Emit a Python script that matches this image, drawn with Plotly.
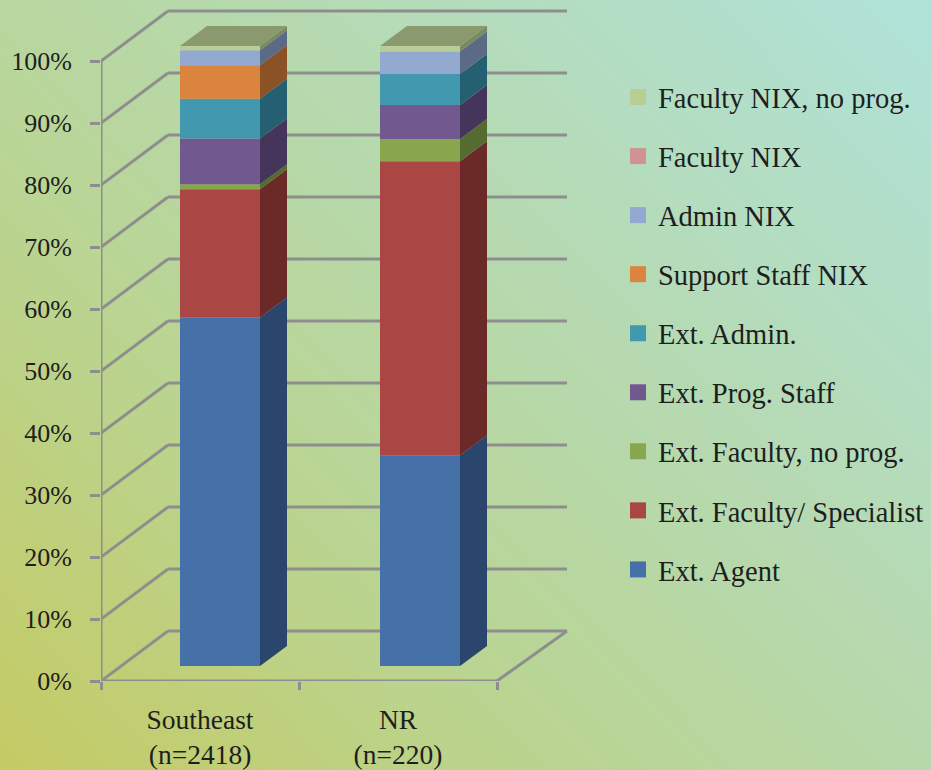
import base64, struct, zlib
import numpy as np
import plotly.graph_objects as go

# ---------- data ----------
categories = ["Southeast<br>(n=2418)", "NR<br>(n=220)"]
series_names = ["Ext. Agent", "Ext. Faculty/ Specialist", "Ext. Faculty, no prog.", "Ext. Prog. Staff",
                "Ext. Admin.", "Support Staff NIX", "Admin NIX", "Faculty NIX", "Faculty NIX, no prog."]
southeast_values = [56.2, 20.7, 0.8, 7.4, 6.4, 5.4, 2.4, 0.0, 0.7]
nr_values = [34.0, 47.4, 3.6, 5.5, 5.0, 0.0, 3.6, 0.0, 0.9]
percent_ticks = [0, 10, 20, 30, 40, 50, 60, 70, 80, 90, 100]
percent_labels = ["0%", "10%", "20%", "30%", "40%", "50%", "60%", "70%", "80%", "90%", "100%"]

# ---------- styles ----------
front_colors = ["#4571A8", "#AA4643", "#89A54E", "#71588F", "#4198AF", "#DB843D", "#93A9CF", "#D19392", "#B9CD96"]
side_colors = ["#2A466C", "#6B2928", "#566B30", "#46355B", "#256072", "#8A5225", "#5B6A85", "#835C5B", "#7A8A60"]
top_color = "#8A996E"
grid_color = "#8E8E8E"
text_color = "#1E1E1E"
font_family = "Liberation Serif"
LINE_W = 3

PX_PER_UNIT_X = 198.0
PX_PER_UNIT_Y = 6.2
WALL_DX_LEFT, WALL_DX_RIGHT = 67 / PX_PER_UNIT_X, 70 / PX_PER_UNIT_X   # slight perspective of the box
WALL_DY = 50 / PX_PER_UNIT_Y
BAR_DXS = [20 / PX_PER_UNIT_X, 22 / PX_PER_UNIT_X]                     # offset of the bar fronts
BAR_DY = 15 / PX_PER_UNIT_Y
DEPTH_DX, DEPTH_DY = 27 / PX_PER_UNIT_X, 20 / PX_PER_UNIT_Y            # depth of each bar
BAR_W = 80 / PX_PER_UNIT_X
N_SLOTS = len(categories)


# ---------- background gradient ----------
def gradient_png(w, h):
    stops_t = [0.0, 0.30, 0.62, 1.0]
    stops_c = np.array([[197, 203, 100], [187, 212, 142], [182, 218, 178], [177, 227, 218]], float)
    yy, xx = np.mgrid[0:h, 0:w]
    t = (xx / w * 0.55 + (h - yy) / h * 0.45)
    rgb = np.stack([np.interp(t, stops_t, stops_c[:, i]) for i in range(3)], axis=-1).astype(np.uint8)
    raw = b"".join(b"\x00" + rgb[r].tobytes() for r in range(h))

    def chunk(tag, d):
        return struct.pack(">I", len(d)) + tag + d + struct.pack(">I", zlib.crc32(tag + d) & 0xffffffff)

    png = b"\x89PNG\r\n\x1a\n" + chunk(b"IHDR", struct.pack(">IIBBBBB", w, h, 8, 2, 0, 0, 0)) \
        + chunk(b"IDAT", zlib.compress(raw)) + chunk(b"IEND", b"")
    return "data:image/png;base64," + base64.b64encode(png).decode()


fig = go.Figure()
centers = [i + 0.5 + BAR_DXS[i] for i in range(N_SLOTS)]
cols = [southeast_values, nr_values]

# front faces: real stacked bars, raised onto the floor of the box
bottoms = [BAR_DY, BAR_DY]
for s, name in enumerate(series_names):
    vals = [southeast_values[s], nr_values[s]]
    fig.add_trace(go.Bar(x=centers, y=vals, base=list(bottoms), width=BAR_W, name=name,
                         marker=dict(color=front_colors[s], line=dict(width=0)),
                         showlegend=False))
    bottoms = [b + v for b, v in zip(bottoms, vals)]


def poly(xs, ys, color, name):
    fig.add_trace(go.Scatter(x=xs, y=ys, mode="lines", fill="toself", fillcolor=color,
                             line=dict(width=0, color=color), showlegend=False, name=name, hoverinfo="skip"))


# side faces and top faces from the same values
for c, vals in zip(centers, cols):
    right = c + BAR_W / 2
    left = c - BAR_W / 2
    b = BAR_DY
    for s, v in enumerate(vals):
        if v > 0:
            poly([right, right + DEPTH_DX, right + DEPTH_DX, right],
                 [b, b + DEPTH_DY, b + v + DEPTH_DY, b + v], side_colors[s], series_names[s])
        b += v
    poly([left, right, right + DEPTH_DX, left + DEPTH_DX], [b, b, b + DEPTH_DY, b + DEPTH_DY], top_color, "top")


def line(xs, ys):
    fig.add_trace(go.Scatter(x=xs, y=ys, mode="lines", line=dict(color=grid_color, width=LINE_W), cliponaxis=False,
                             showlegend=False, hoverinfo="skip"))


# left wall diagonals, floor, axis lines
for p in percent_ticks:
    line([0, WALL_DX_LEFT], [p, p + WALL_DY])
line([N_SLOTS, N_SLOTS + WALL_DX_RIGHT], [0, WALL_DY])
line([0, N_SLOTS], [0, 0])
line([0, 0], [0, percent_ticks[-1]])

# back wall lines stay behind the bars
shapes = [dict(type="line", layer="below", xref="x", yref="y", x0=WALL_DX_LEFT, x1=N_SLOTS + WALL_DX_RIGHT,
               y0=p + WALL_DY, y1=p + WALL_DY, line=dict(color=grid_color, width=LINE_W)) for p in percent_ticks]

# legend
for s in reversed(range(len(series_names))):
    fig.add_trace(go.Scatter(x=[None], y=[None], mode="markers", name=series_names[s], legendgroup=series_names[s],
                             marker=dict(symbol="square", size=16, color=front_colors[s], line=dict(width=0))))

H, W = 770, 931
fig.update_layout(
    width=W, height=H, margin=dict(l=101, r=0, t=0, b=89, autoexpand=False),
    paper_bgcolor="rgba(0,0,0,0)", plot_bgcolor="rgba(0,0,0,0)",
    font=dict(family=font_family, size=26, color=text_color),
    barmode="overlay", shapes=shapes,
    images=[dict(source=gradient_png(W, H), xref="paper", yref="paper", x=-101 / 830, y=1,
                 sizex=W / 830, sizey=H / 681, xanchor="left", yanchor="top", sizing="stretch", layer="below")],
    legend=dict(x=618 / W, y=1 - 72 / H, xanchor="left", yanchor="top", yref="container", xref="container",
                traceorder="grouped", tracegroupgap=19, bgcolor="rgba(0,0,0,0)", font=dict(size=28.5),
                maxheight=1.0),
    xaxis=dict(range=[0, (W - 101) / PX_PER_UNIT_X], showgrid=False, zeroline=False, showline=False,
               tickvals=[i + 0.5 for i in range(N_SLOTS)], ticktext=categories, ticks="",
               tickfont=dict(size=27.5), ticklabelstandoff=19,
               minor=dict(tickvals=list(range(N_SLOTS + 1)), ticks="outside", ticklen=8, tickwidth=LINE_W,
                          tickcolor=grid_color, showgrid=False)),
    yaxis=dict(range=[0, 681 / PX_PER_UNIT_Y], showgrid=False, zeroline=False, showline=False,
               tickvals=percent_ticks, ticktext=percent_labels, ticks="outside", ticklen=10, tickwidth=LINE_W,
               tickcolor=grid_color, ticklabelstandoff=13),
    hovermode=False,
)

fig.write_html("out.html", post_script="document.body.style.margin='0';", config=dict(displayModeBar=False))
